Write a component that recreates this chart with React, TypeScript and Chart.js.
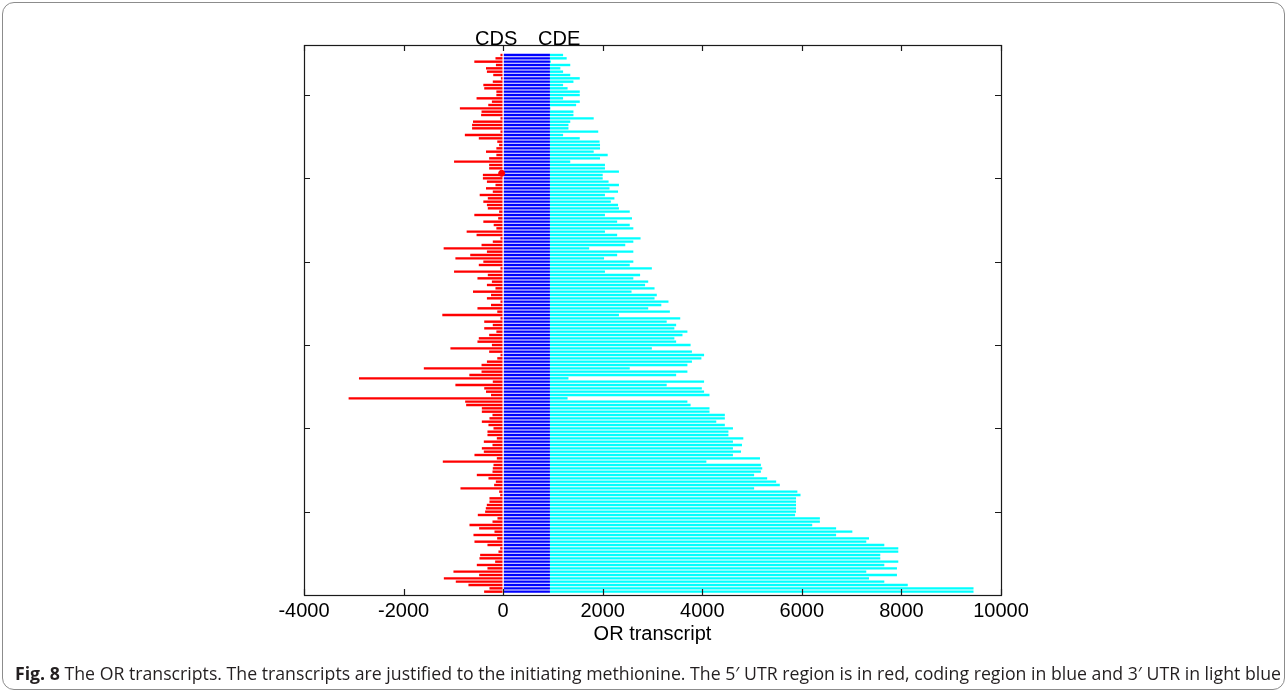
import React, { useEffect, useLayoutEffect, useRef } from "react";
import { Chart, registerables } from "chart.js";

Chart.register(...registerables);

// 5' UTR length of each transcript, listed from top row to bottom row
const utr5Lengths = [
  54, 154, 579, 145, 344, 326, 199, 45, 208, 398,
  380, 136, 136, 534, 226, 299, 869, 434, 443, 54,
  606, 624, 624, 54, 769, 489, 118, 81, 136, 344,
  136, 281, 986, 281, 281, 54, 407, 407, 326, 154,
  344, 208, 471, 308, 398, 326, 308, 81, 579, 100,
  398, 190, 136, 733, 534, 54, 208, 434, 1195, 326,
  661, 959, 398, 489, 54, 986, 308, 516, 226, 326,
  154, 606, 244, 326, 54, 244, 516, 118, 1222, 54,
  380, 208, 380, 136, 281, 489, 516, 226, 1059, 281,
  54, 118, 326, 434, 1593, 434, 679, 2896, 208, 959,
  380, 344, 244, 3104, 763, 743, 428, 428, 214, 275,
  428, 295, 194, 315, 315, 127, 388, 214, 428, 388,
  576, 127, 1212, 194, 208, 214, 529, 295, 147, 181,
  857, 80, 60, 275, 275, 328, 348, 362, 509, 114,
  214, 676, 482, 174, 596, 120, 576, 315, 60, 94,
  462, 476, 161, 529, 315, 998, 482, 1191, 951, 697,
  275, 382,
];

// end of the 3' UTR (transcript end) of each transcript, same row order
const utr3Ends = [
  1204, 1276, 959, 1348, 1149, 1204, 1348, 1539, 1412, 1204,
  1294, 1539, 1539, 1204, 1539, 1466, 950, 1412, 1412, 1819,
  1348, 1312, 1312, 1910, 1204, 1539, 1937, 1946, 1946, 1819,
  2100, 1946, 1348, 2045, 2045, 2326, 2000, 2000, 2118, 2326,
  2136, 2308, 2045, 2235, 2163, 2308, 2326, 2543, 2045, 2588,
  2290, 2543, 2615, 2045, 2290, 2760, 2615, 2453, 1729, 2615,
  2290, 2027, 2615, 2543, 2987, 2045, 2751, 2615, 2914, 2851,
  3041, 2579, 3086, 3041, 3321, 3177, 2914, 3349, 2326, 3557,
  3285, 3475, 3439, 3701, 3602, 3439, 3475, 3765, 2987, 3792,
  4036, 3982, 3792, 3701, 2543, 3701, 3475, 1312, 4036, 3285,
  3991, 4036, 4145, 1294, 3701, 3765, 4145, 4145, 4453, 4453,
  4281, 4453, 4616, 4525, 4525, 4824, 4616, 4797, 4616, 4778,
  4616, 5159, 4082, 5177, 5204, 5177, 5041, 5303, 5484, 5557,
  5041, 5910, 5973, 5883, 5883, 5883, 5883, 5883, 5864, 6362,
  6362, 6208, 6688, 7014, 6688, 7349, 7294, 7656, 7937, 7937,
  7575, 7575, 7937, 7656, 7910, 7294, 7910, 7349, 7656, 8127,
  9448, 9448,
];

const CDS_START = 0;
const CDS_END = 940;
const Y_MAX = 165;
const xTickValues = [-4000, -2000, 0, 2000, 4000, 6000, 8000, 10000];
const yTickValues = [25, 50, 75, 100, 125, 150];
const markerLabels = [
  { text: "CDS", x: -140 },
  { text: "CDE", x: 1125 },
];
const dotPoints = [{ x: -30, y: 126.5 }];
const xAxisTitle = "OR transcript";
const captionBold = "Fig. 8";
const captionText =
  " The OR transcripts. The transcripts are justified to the initiating methionine. The 5\u2032 UTR region is in red, coding region in blue and 3\u2032 UTR in light blue";

const N = utr5Lengths.length;
const FONT = '"Liberation Sans", Arial, Helvetica, sans-serif';

const decorPlugin = {
  id: "decor",
  afterDatasetDraw(chart: any, args: any) {
    if (args.index !== 1) return;
    const { ctx, chartArea, scales } = chart;
    const x0 = scales.x.getPixelForValue(CDS_START);
    ctx.save();
    ctx.strokeStyle = "#ffffff";
    ctx.lineWidth = 1.3;
    ctx.beginPath();
    ctx.moveTo(x0, chartArea.top + 1);
    ctx.lineTo(x0, chartArea.bottom - 1);
    ctx.stroke();
    ctx.restore();
  },
  afterDraw(chart: any) {
    const { ctx, chartArea, scales } = chart;
    const { left, right, top, bottom } = chartArea;
    const xs = scales.x;
    const ys = scales.y;
    ctx.save();
    ctx.strokeStyle = "#1a1a1a";
    ctx.lineWidth = 1.2;
    ctx.strokeRect(Math.round(left) + 0.5, Math.round(top) + 0.5, Math.round(right - left), Math.round(bottom - top));
    const tl = 6;
    ctx.beginPath();
    xTickValues.forEach((v) => {
      const p = Math.round(xs.getPixelForValue(v)) + 0.5;
      ctx.moveTo(p, bottom);
      ctx.lineTo(p, bottom - tl);
      ctx.moveTo(p, top);
      ctx.lineTo(p, top + tl);
    });
    yTickValues.forEach((v) => {
      const p = Math.round(ys.getPixelForValue(v)) + 0.5;
      ctx.moveTo(left, p);
      ctx.lineTo(left + tl, p);
      ctx.moveTo(right, p);
      ctx.lineTo(right - tl, p);
    });
    ctx.stroke();
    ctx.fillStyle = "#000";
    ctx.font = `20px ${FONT}`;
    ctx.textAlign = "center";
    ctx.textBaseline = "alphabetic";
    markerLabels.forEach((m) => {
      ctx.fillText(m.text, xs.getPixelForValue(m.x), top - 0.5);
    });
    ctx.restore();
  },
};

function Caption() {
  const ref = useRef<HTMLDivElement>(null);
  useLayoutEffect(() => {
    const el = ref.current;
    if (!el) return;
    el.style.transform = "none";
    const w = el.getBoundingClientRect().width;
    if (w > 0) el.style.transform = `scaleX(${1266 / w})`;
  }, []);
  return (
    <div
      ref={ref}
      style={{
        position: "absolute",
        left: 15,
        top: 660,
        display: "inline-block",
        whiteSpace: "nowrap",
        transformOrigin: "0 0",
        fontFamily: '"Open Sans", sans-serif',
        fontSize: 18.5,
        color: "#231f20",
      }}
    >
      <b>{captionBold}</b>
      {captionText}
    </div>
  );
}

export default function App() {
  const canvasRef = useRef<HTMLCanvasElement>(null);

  useEffect(() => {
    const canvas = canvasRef.current;
    if (!canvas) return;
    const rowY = (k: number) => N - k;
    const chart = new Chart(canvas, {
      type: "bar",
      data: {
        datasets: [
          {
            type: "scatter",
            label: "marker",
            data: dotPoints,
            backgroundColor: "#ff0000",
            borderColor: "#ff0000",
            pointRadius: 3,
            pointHoverRadius: 3,
          } as any,
          {
            label: "5' UTR",
            data: utr5Lengths.map((l, k) => ({ y: rowY(k), x: [-l, CDS_START] })),
            backgroundColor: "#ff0000",
            grouped: false,
          } as any,
          {
            label: "CDS",
            data: utr5Lengths.map((_, k) => ({ y: rowY(k), x: [CDS_START, CDS_END] })),
            backgroundColor: "#0000ff",
            grouped: false,
          } as any,
          {
            label: "3' UTR",
            data: utr3Ends.map((e, k) => ({ y: rowY(k), x: [CDS_END, Math.max(e, CDS_END)] })),
            backgroundColor: "#00ffff",
            grouped: false,
          } as any,
        ],
      },
      options: {
        indexAxis: "y",
        responsive: false,
        animation: false,
        events: [],
        datasets: {
          bar: { categoryPercentage: 1, barPercentage: 0.72 },
        },
        layout: { padding: { left: 304, right: 286, top: 45, bottom: 43 } },
        plugins: { legend: { display: false }, tooltip: { enabled: false } },
        scales: {
          x: {
            type: "linear",
            position: "bottom",
            min: -4000,
            max: 10000,
            offset: false,
            grid: { display: false, drawTicks: false, offset: false },
            border: { display: false },
            afterBuildTicks: (scale: any) => {
              scale.ticks = xTickValues.map((v) => ({ value: v }));
            },
            afterFit: (scale: any) => {
              scale.height = 55;
            },
            ticks: {
              autoSkip: false,
              padding: 4,
              color: "#000",
              font: { family: FONT, size: 20 },
              callback: (v: any) => String(v),
            },
            title: {
              display: true,
              text: xAxisTitle,
              color: "#000",
              font: { family: FONT, size: 20 },
              padding: { top: 0, bottom: 4 },
            },
          },
          y: {
            type: "linear",
            display: false,
            offset: false,
            grid: { offset: false },
            min: 0,
            max: Y_MAX,
          },
        },
      } as any,
      plugins: [decorPlugin],
    });
    return () => chart.destroy();
  }, []);

  return (
    <div style={{ position: "fixed", left: 0, top: 0, width: 1287, height: 693, background: "#fff", overflow: "hidden" }}>
      <div
        style={{
          position: "absolute",
          left: 2,
          top: 2,
          width: 1281,
          height: 686,
          border: "1px solid #8c8c8c",
          borderRadius: 12,
        }}
      />
      <canvas ref={canvasRef} width={1287} height={693} style={{ position: "absolute", left: 0, top: 0 }} />
      <Caption />
    </div>
  );
}
